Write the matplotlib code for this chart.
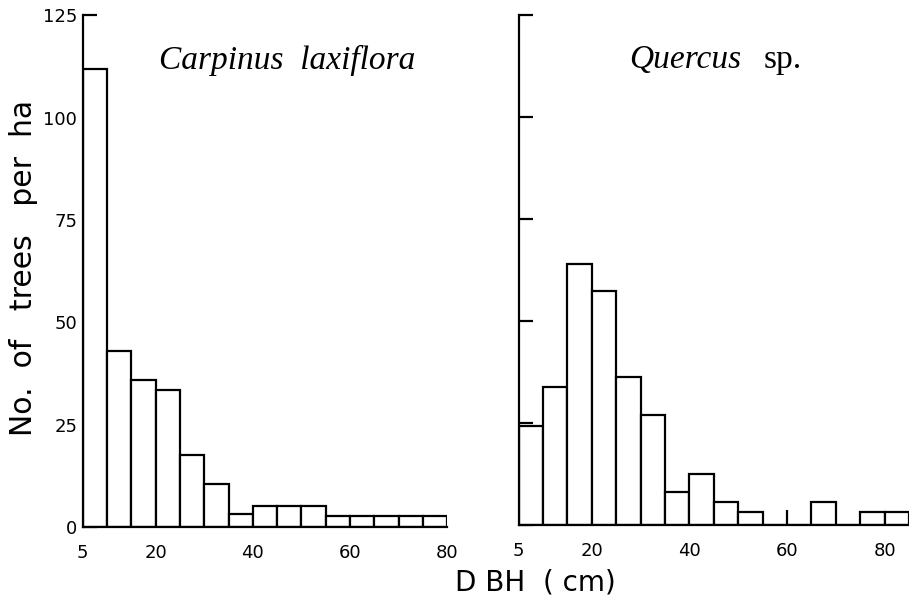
import matplotlib
matplotlib.use("Agg")
import matplotlib.pyplot as plt
import numpy as np

# ---- data ----
bin_width = 5
carpinus_edges = [5, 10, 15, 20, 25, 30, 35, 40, 45, 50, 55, 60, 65, 70, 75]
carpinus_counts = [112, 43, 36, 33.5, 17.5, 10.4, 3.1, 5.1, 5.1, 5.1, 2.8, 2.8, 2.8, 2.8, 2.8]

quercus_edges = [5, 10, 15, 20, 25, 30, 35, 40, 45, 50, 55, 60, 65, 70, 75, 80]
quercus_counts = [24.3, 33.7, 64, 57.4, 36.2, 26.9, 8.1, 12.5, 5.6, 3.2, 0, 0, 5.6, 0, 3.2, 3.2]
quercus_stub_x = [60]
quercus_stub_h = [3.6]

y_ticks = [0, 25, 50, 75, 100, 125]
x_ticks = [5, 20, 40, 60, 80]
x_ticklabels = ["5", "20", "40", "60", "80"]

W, H = 909, 600
fig = plt.figure(figsize=(W / 100, H / 100), dpi=100)

def px_axes(x0, x1, ytop, ybot):
    return [x0 / W, 1 - ybot / H, (x1 - x0) / W, (ybot - ytop) / H]

lw = 1.6
ax1 = fig.add_axes(px_axes(82.7, 447.3, 15.5, 527))
ax2 = fig.add_axes(px_axes(518.7, 909, 14.7, 525))

for ax, edges, counts in [(ax1, carpinus_edges, carpinus_counts),
                          (ax2, quercus_edges, quercus_counts)]:
    ax.bar(edges, counts, width=bin_width, align="edge",
           facecolor="white", edgecolor="black", linewidth=lw, zorder=2)
    ax.set_ylim(0, 125)
    ax.set_yticks(y_ticks)
    ax.set_xticks(x_ticks)
    ax.set_xticklabels(x_ticklabels)
    for s in ["top", "right"]:
        ax.spines[s].set_visible(False)
    for s in ["left", "bottom"]:
        ax.spines[s].set_linewidth(lw)
    ax.tick_params(axis="y", direction="in", length=10, width=lw, labelsize=13, pad=4)
    ax.tick_params(axis="x", length=0, labelsize=13, pad=12)
    ax.patch.set_alpha(0)

ax1.set_xlim(5, 80)
ax2.set_xlim(5, 85)
ax2.set_yticklabels([])
ax2.vlines(quercus_stub_x, 0, quercus_stub_h, colors="black", linewidth=lw)

fig.text(287 / W, 1 - 60 / H, "Carpinus  laxiflora", family="Liberation Serif",
         style="italic", fontsize=24, ha="center", va="center")
fig.text(741 / W, 1 - 60 / H, "Quercus", family="Liberation Serif",
         style="italic", fontsize=24, ha="right", va="center")
fig.text(764 / W, 1 - 60 / H, "sp.", family="Liberation Serif",
         fontsize=24, ha="left", va="center")

fig.text(24 / W, 1 - 268 / H, "No.  of   trees   per  ha", rotation=90,
         fontsize=21.5, ha="center", va="center")
fig.text(535 / W, 1 - 583 / H, "D BH  ( cm)", fontsize=20, ha="center", va="center")

fig.savefig("out.png", dpi=100)
